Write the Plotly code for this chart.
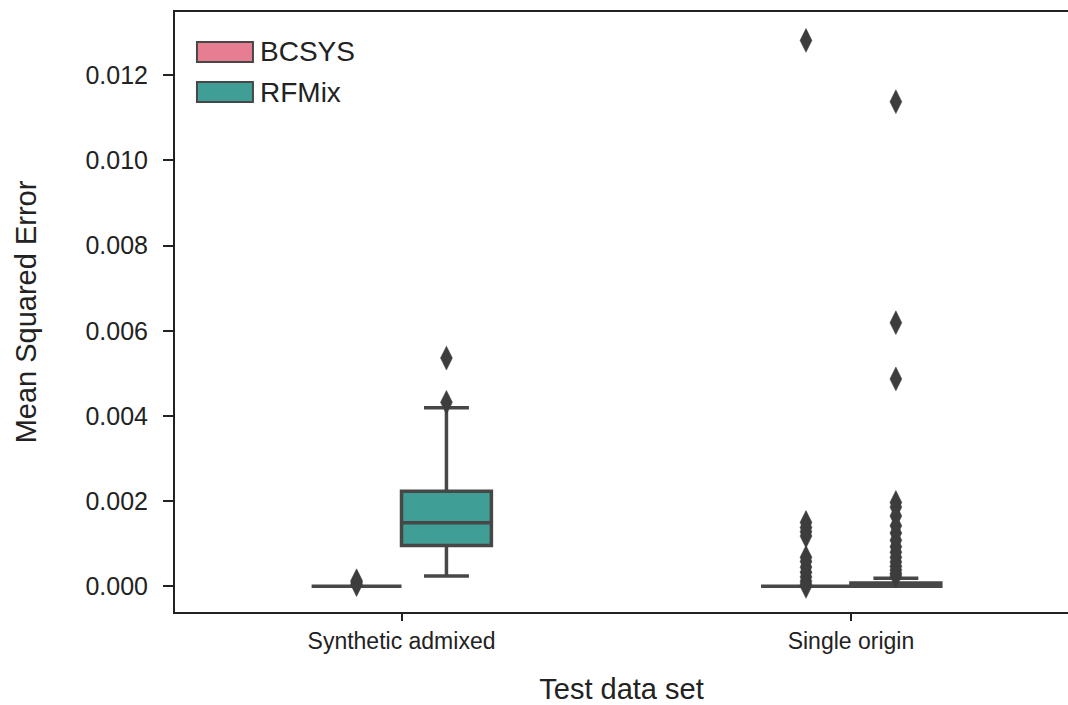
import plotly.graph_objects as go

# ---- data ----
categories = ["Synthetic admixed", "Single origin"]
methods = ["BCSYS", "RFMix"]
colors = {"BCSYS": "#E77D91", "RFMix": "#3F9E95"}

# box statistics per method, in category order
q1 = {"BCSYS": [0.0, 0.0], "RFMix": [0.00096, 0.0]}
median = {"BCSYS": [0.0, 0.0], "RFMix": [0.00149, 0.00002]}
q3 = {"BCSYS": [0.0, 0.0], "RFMix": [0.00223, 0.00008]}
lowerfence = {"BCSYS": [0.0, 0.0], "RFMix": [0.00024, 0.0]}
upperfence = {"BCSYS": [0.0, 0.0], "RFMix": [0.00419, 0.00019]}

# outliers per method, per category
outliers = {
    "BCSYS": [
        [0.00013, 0.00009, 0.00004],
        [0.01282, 0.00150, 0.00138, 0.00128, 0.00118, 0.00068, 0.00058,
         0.00045, 0.00033, 0.00022, 0.00012, 0.00005, 0.0],
    ],
    "RFMix": [
        [0.00536, 0.00432],
        [0.01138, 0.00619, 0.00487, 0.00197, 0.00186, 0.00165, 0.00142,
         0.00125, 0.00108, 0.00093, 0.00080, 0.00068, 0.00057, 0.00047,
         0.00038, 0.00030, 0.00024],
    ],
}

y_ticks = [0.0, 0.002, 0.004, 0.006, 0.008, 0.010, 0.012]
y_ticktext = ["0.000", "0.002", "0.004", "0.006", "0.008", "0.010", "0.012"]

# ---- style / layout helpers ----
box_width = 0.2
hue_offset = {"BCSYS": -0.1, "RFMix": 0.1}
line_col = "#474747"
text_col = "#222222"
font_family = "Arial, Liberation Sans, Helvetica, sans-serif"

fig = go.Figure()

for m in methods:
    pos = [i + hue_offset[m] for i in range(len(categories))]
    fig.add_trace(go.Box(
        name=m,
        x=pos,
        q1=q1[m], median=median[m], q3=q3[m],
        lowerfence=lowerfence[m], upperfence=upperfence[m],
        width=box_width,
        whiskerwidth=0.5,
        fillcolor=colors[m],
        line=dict(color=line_col, width=3.5),
        boxpoints=False,
        hoverinfo="y",
        showlegend=False,
    ))

for m in methods:
    xs, ys = [], []
    for i, vals in enumerate(outliers[m]):
        for v in vals:
            xs.append(i + hue_offset[m])
            ys.append(v)
    fig.add_trace(go.Scatter(
        x=xs, y=ys, mode="markers", name=m + " outliers",
        marker=dict(symbol="diamond-tall", size=17, color="#3d3d3d",
                    line=dict(color="#3d3d3d", width=0.5)),
        showlegend=False, hoverinfo="y",
    ))

# legend drawn as patches + text in the upper-left corner of the axes
legend_rows = [(0.95, 0.9167), (0.8833, 0.85)]
for (y1, y0), m in zip(legend_rows, methods):
    fig.add_shape(type="rect", xref="paper", yref="paper",
                  x0=0.0246, x1=0.0873, y0=y0, y1=y1,
                  fillcolor=colors[m], line=dict(color=line_col, width=2))
    fig.add_annotation(xref="paper", yref="paper", x=0.093, y=(y0 + y1) / 2,
                       xanchor="left", yanchor="middle", showarrow=False,
                       text=m, font=dict(size=28, family=font_family, color=text_col))

fig.update_layout(
    width=1068, height=705,
    margin=dict(l=175, r=0, t=12, b=93),
    paper_bgcolor="white", plot_bgcolor="white",
    font=dict(family=font_family, color=text_col),
    showlegend=False,
    xaxis=dict(
        range=[-0.504, 1.483],
        tickmode="array",
        tickvals=list(range(len(categories))),
        ticktext=categories,
        tickfont=dict(size=23, family=font_family, color=text_col),
        ticks="outside", ticklen=7, tickwidth=2, tickcolor=text_col,
        showline=True, linecolor=text_col, linewidth=2, mirror=True,
        showgrid=False, zeroline=False,
        title=dict(text="Test data set", font=dict(size=29, family=font_family, color=text_col),
                   standoff=27),
    ),
    yaxis=dict(
        range=[-0.000604, 0.013487],
        tickmode="array",
        tickvals=y_ticks,
        ticktext=y_ticktext,
        tickfont=dict(size=25, family=font_family, color=text_col),
        ticks="outside", ticklen=10, tickwidth=2, tickcolor=text_col,
        ticklabelstandoff=10,
        showline=True, linecolor=text_col, linewidth=2, mirror=False,
        showgrid=False, zeroline=False,
        title=dict(text="Mean Squared Error", font=dict(size=29, family=font_family, color=text_col),
                   standoff=40),
    ),
)

fig.write_html("out.html")
